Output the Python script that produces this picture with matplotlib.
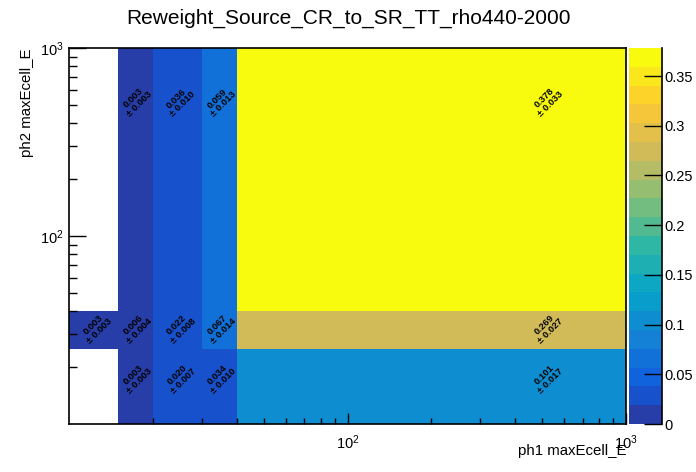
import numpy as np
import matplotlib
matplotlib.use('Agg')
import matplotlib.pyplot as plt
from matplotlib.colors import ListedColormap, BoundaryNorm
from matplotlib.ticker import FixedLocator, NullFormatter, LogLocator

plt.rcParams['font.family'] = ['Liberation Sans', 'DejaVu Sans']

# --- data ---
x_edges = [10, 15, 20, 30, 40, 1000]
y_edges = [10, 25, 40, 1000]

# rows go from the bottom y bin to the top one, nan = empty bin
values_low = [np.nan, 0.003, 0.020, 0.034, 0.101]
values_mid = [0.003, 0.006, 0.022, 0.067, 0.269]
values_high = [np.nan, 0.003, 0.036, 0.059, 0.378]

errors_low = [np.nan, 0.003, 0.007, 0.010, 0.017]
errors_mid = [0.003, 0.004, 0.008, 0.014, 0.027]
errors_high = [np.nan, 0.003, 0.010, 0.013, 0.033]

title = 'Reweight_Source_CR_to_SR_TT_rho440-2000'
x_title = 'ph1 maxEcell_E'
y_title = 'ph2 maxEcell_E'

values = np.array([values_low, values_mid, values_high])
errors = np.array([errors_low, errors_mid, errors_high])

# ROOT kBird palette, 20 contours
stops = [0.0, 0.125, 0.25, 0.375, 0.5, 0.625, 0.75, 0.875, 1.0]
red = [0.2082, 0.0592, 0.0780, 0.0232, 0.1802, 0.5301, 0.8186, 0.9956, 0.9764]
green = [0.1664, 0.3599, 0.5041, 0.6419, 0.7178, 0.7492, 0.7328, 0.7862, 0.9832]
blue = [0.5293, 0.8684, 0.8385, 0.7914, 0.6425, 0.4662, 0.3499, 0.1968, 0.0539]
n_cont = 20
idx = [int((i + 0.99) * 255 / n_cont) for i in range(n_cont)]
t = np.array(idx) / 254.0
cols = np.column_stack([np.interp(t, stops, red), np.interp(t, stops, green), np.interp(t, stops, blue)])
cmap = ListedColormap(cols)
zmax = np.nanmax(values)
levels = np.linspace(0, zmax * 1.0005, n_cont + 1)
norm = BoundaryNorm(levels, n_cont)

fig = plt.figure(figsize=(6.96, 4.72), dpi=100)
ax = fig.add_axes([69 / 696, 1 - 424 / 472, 557 / 696, 376 / 472])
cax = fig.add_axes([629 / 696, 1 - 424 / 472, 33 / 696, 376 / 472])

mesh = ax.pcolormesh(x_edges, y_edges, np.ma.masked_invalid(values), cmap=cmap, norm=norm)
ax.set_xscale('log')
ax.set_yscale('log')
ax.set_xlim(10, 1000)
ax.set_ylim(10, 1000)

# cell labels, value and error, at 45 degrees
for j in range(len(y_edges) - 1):
    for i in range(len(x_edges) - 1):
        v = values[j, i]
        if np.isnan(v):
            continue
        xc = 0.5 * (x_edges[i] + x_edges[i + 1])
        yc = 0.5 * (y_edges[j] + y_edges[j + 1])
        ax.text(xc, yc, f'{v:.3f}\n\u00b1 {errors[j, i]:.3f}', rotation=45,
                ha='center', va='center', fontsize=6.8, fontweight='bold',
                linespacing=0.95)

ax.xaxis.set_major_locator(FixedLocator([100, 1000]))
ax.yaxis.set_major_locator(FixedLocator([100, 1000]))
ax.xaxis.set_minor_locator(LogLocator(base=10, subs=np.arange(2, 10)))
ax.yaxis.set_minor_locator(LogLocator(base=10, subs=np.arange(2, 10)))
ax.xaxis.set_minor_formatter(NullFormatter())
ax.yaxis.set_minor_formatter(NullFormatter())
ax.tick_params(axis='x', which='major', direction='in', length=8, width=1, labelsize=10.5, pad=7)
ax.tick_params(axis='x', which='minor', direction='in', length=4, width=1)
ax.tick_params(axis='y', which='major', direction='in', length=12, width=1, labelsize=10.5, pad=4)
ax.tick_params(axis='y', which='minor', direction='in', length=6, width=1)
for s in ax.spines.values():
    s.set_linewidth(1.2)

ax.set_xlabel(x_title, fontsize=10.8, loc='right')
ax.xaxis.set_label_coords(1.0, -0.052)
ax.set_ylabel(y_title, fontsize=10.8, loc='top')
ax.yaxis.set_label_coords(-0.062, 1.0)

cb = fig.colorbar(mesh, cax=cax, ticks=np.arange(0, 0.36, 0.05))
cb.ax.set_yticklabels(['0', '0.05', '0.1', '0.15', '0.2', '0.25', '0.3', '0.35'])
cb.outline.set_visible(False)
cax.tick_params(direction='in', length=13, width=1, labelsize=10.5, pad=2, right=True)
cax.plot([1, 1], [0, 1], transform=cax.transAxes, color='black', lw=1.2, clip_on=False)
cax.minorticks_off()

fig.text(0.5, 1 - 18 / 472, title, ha='center', va='center', fontsize=15)

fig.savefig('out.png', dpi=100)
